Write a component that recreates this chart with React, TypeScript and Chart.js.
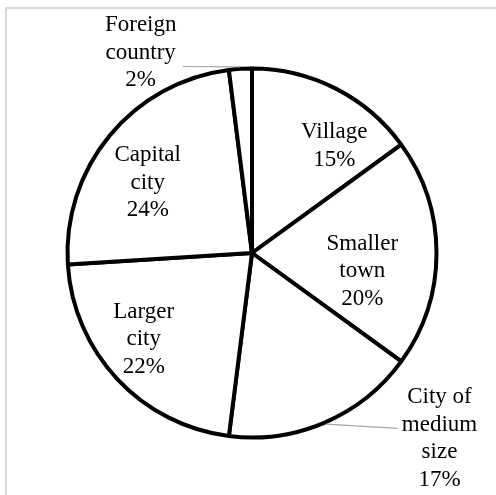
import React, { useEffect, useRef } from "react";
import { Chart, registerables } from "chart.js";

Chart.register(...registerables);

const categories = ["Village", "Smaller town", "City of medium size", "Larger city", "Capital city", "Foreign country"];
const shares = [15, 20, 17, 22, 24, 2];
const labelLines = [["Village"], ["Smaller", "town"], ["City of", "medium", "size"], ["Larger", "city"], ["Capital", "city"], ["Foreign", "country"]];

// label placement: offset of text block centre from pie centre (px at radius 186), optional leader end
const placement = [
  { dx: 82, dy: -107 },
  { dx: 110, dy: 18 },
  { dx: 187, dy: 185, leader: { dx: 145, dy: 175 } },
  { dx: -108, dy: 86 },
  { dx: -104, dy: -70 },
  { dx: -111, dy: -200, leader: { dx: -69, dy: -186 } },
];

const FONT = "23px 'Liberation Serif', 'Times New Roman', serif";
const LINE_H = 27.5;

const labelPlugin = {
  id: "sliceLabels",
  beforeDraw(chart: any) {
    const ctx = chart.ctx;
    ctx.save();
    ctx.fillStyle = "#ffffff";
    ctx.fillRect(0, 0, chart.width, chart.height);
    ctx.strokeStyle = "#d9d9d9";
    ctx.lineWidth = 2;
    ctx.beginPath();
    ctx.moveTo(6, chart.height);
    ctx.lineTo(6, 8);
    ctx.lineTo(chart.width, 8);
    ctx.stroke();
    ctx.restore();
  },
  afterDatasetsDraw(chart: any) {
    const ctx = chart.ctx;
    const meta = chart.getDatasetMeta(0);
    ctx.save();
    meta.data.forEach((arc: any, i: number) => {
      const p = arc.getProps(["x", "y", "startAngle", "endAngle", "outerRadius"], true);
      const R = p.outerRadius + 2;
      const k = R / 186;
      const pl = placement[i];
      const cx = p.x + pl.dx * k;
      const cy = p.y + pl.dy * k;
      if (pl.leader) {
        const mid = (p.startAngle + p.endAngle) / 2;
        const ax = p.x + Math.cos(mid) * R;
        const ay = p.y + Math.sin(mid) * R;
        ctx.strokeStyle = "#a6a6a6";
        ctx.lineWidth = 1.2;
        ctx.beginPath();
        ctx.moveTo(p.x + pl.leader.dx * k, p.y + pl.leader.dy * k);
        ctx.lineTo(ax, ay);
        ctx.stroke();
      }
      const lines = [...labelLines[i], `${shares[i]}%`];
      ctx.font = FONT;
      ctx.fillStyle = "#000000";
      ctx.textAlign = "center";
      ctx.textBaseline = "middle";
      lines.forEach((t, j) => {
        ctx.fillText(t, cx, cy + (j - (lines.length - 1) / 2) * LINE_H);
      });
    });
    ctx.restore();
  },
};

export default function App() {
  const ref = useRef<HTMLCanvasElement>(null);
  useEffect(() => {
    if (!ref.current) return;
    const chart = new Chart(ref.current, {
      type: "pie",
      data: {
        labels: categories,
        datasets: [
          {
            data: shares,
            backgroundColor: "#ffffff",
            borderColor: "#000000",
            borderWidth: 4,
            radius: 184.5,
          } as any,
        ],
      },
      options: {
        responsive: false,
        animation: false,
        layout: { padding: { left: 8, top: 11, right: 0, bottom: 0 } },
        plugins: { legend: { display: false }, tooltip: { enabled: false } },
      },
      plugins: [labelPlugin],
    });
    return () => chart.destroy();
  }, []);
  return (
    <div style={{ position: "fixed", left: 0, top: 0, width: 496, height: 495, background: "#fff" }}>
      <canvas ref={ref} width={496} height={495} />
    </div>
  );
}
